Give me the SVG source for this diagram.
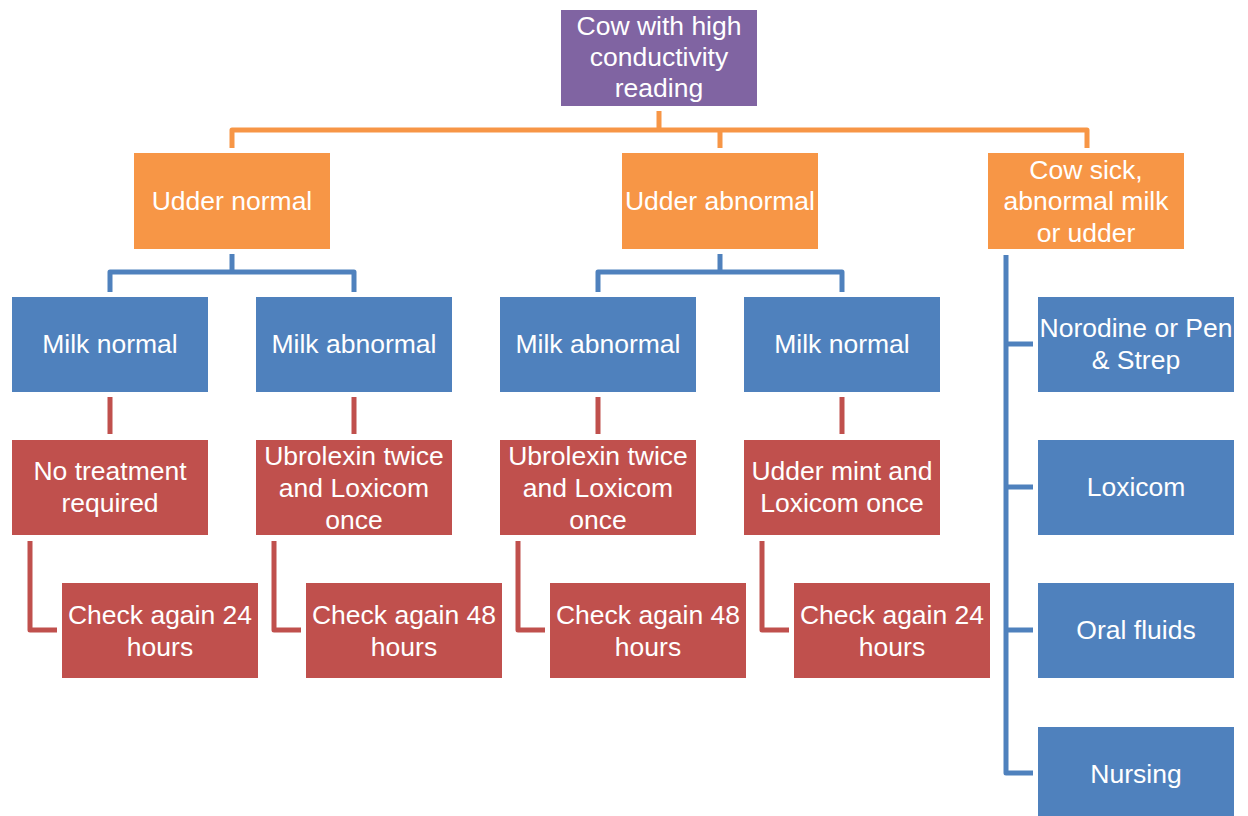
<svg xmlns="http://www.w3.org/2000/svg" width="1248" height="816" viewBox="0 0 1248 816">
<style>
text{font-family:"Liberation Sans",Arial,sans-serif;font-size:26.5px;fill:#fff;text-anchor:middle}
.p{fill:#8064A2}.o{fill:#F79646}.b{fill:#4F81BD}.r{fill:#C0504D}
.lo{stroke:#F79646}.lb{stroke:#4F81BD}.lr{stroke:#C0504D}
#connectors path{fill:none;stroke-width:5;stroke-linejoin:round}
</style>
<rect width="1248" height="816" fill="#fff"/>
<g id="connectors">
<path class="lo" d="M659 111V130M232 148V130H1087V148M720 130V148"/>
<path class="lb" d="M232 254V272M110 292V272H354V292M720 254V272M598 292V272H842V292"/>
<path class="lr" d="M110 397V434M354 397V434M598 397V434M842 397V434"/>
<path class="lr" d="M30 541V630H57M274 541V630H301M518 541V630H545M762 541V630H789"/>
<path class="lb" d="M1006 255V773H1033M1006 344H1033M1006 487H1033M1006 630H1033"/>
</g>
<g id="n-root"><rect class="p" x="561" y="10" width="196" height="96"/><text x="659" y="35">Cow with high</text><text x="659" y="66">conductivity</text><text x="659" y="97">reading</text></g>
<g id="n-udder-normal"><rect class="o" x="134" y="153" width="196" height="96"/><text x="232" y="210">Udder normal</text></g>
<g id="n-udder-abnormal"><rect class="o" x="622" y="153" width="196" height="96"/><text x="720" y="210">Udder abnormal</text></g>
<g id="n-cow-sick"><rect class="o" x="988" y="153" width="196" height="96"/><text x="1086" y="179">Cow sick,</text><text x="1086" y="210">abnormal milk</text><text x="1086" y="242">or udder</text></g>
<g id="n-milk-normal-1"><rect class="b" x="12" y="297" width="196" height="95"/><text x="110" y="353">Milk normal</text></g>
<g id="n-milk-abnormal-1"><rect class="b" x="256" y="297" width="196" height="95"/><text x="354" y="353">Milk abnormal</text></g>
<g id="n-milk-abnormal-2"><rect class="b" x="500" y="297" width="196" height="95"/><text x="598" y="353">Milk abnormal</text></g>
<g id="n-milk-normal-2"><rect class="b" x="744" y="297" width="196" height="95"/><text x="842" y="353">Milk normal</text></g>
<g id="n-no-treatment"><rect class="r" x="12" y="440" width="196" height="95"/><text x="110" y="480">No treatment</text><text x="110" y="512">required</text></g>
<g id="n-ubro-1"><rect class="r" x="256" y="440" width="196" height="95"/><text x="354" y="465">Ubrolexin twice</text><text x="354" y="497">and Loxicom</text><text x="354" y="529">once</text></g>
<g id="n-ubro-2"><rect class="r" x="500" y="440" width="196" height="95"/><text x="598" y="465">Ubrolexin twice</text><text x="598" y="497">and Loxicom</text><text x="598" y="529">once</text></g>
<g id="n-udder-mint"><rect class="r" x="744" y="440" width="196" height="95"/><text x="842" y="480">Udder mint and</text><text x="842" y="512">Loxicom once</text></g>
<g id="n-check-1"><rect class="r" x="62" y="583" width="196" height="95"/><text x="160" y="624">Check again 24</text><text x="160" y="656">hours</text></g>
<g id="n-check-2"><rect class="r" x="306" y="583" width="196" height="95"/><text x="404" y="624">Check again 48</text><text x="404" y="656">hours</text></g>
<g id="n-check-3"><rect class="r" x="550" y="583" width="196" height="95"/><text x="648" y="624">Check again 48</text><text x="648" y="656">hours</text></g>
<g id="n-check-4"><rect class="r" x="794" y="583" width="196" height="95"/><text x="892" y="624">Check again 24</text><text x="892" y="656">hours</text></g>
<g id="n-norodine"><rect class="b" x="1038" y="297" width="196" height="95"/><text x="1136" y="337">Norodine or Pen</text><text x="1136" y="369">&amp; Strep</text></g>
<g id="n-loxicom"><rect class="b" x="1038" y="440" width="196" height="95"/><text x="1136" y="496">Loxicom</text></g>
<g id="n-oral"><rect class="b" x="1038" y="583" width="196" height="95"/><text x="1136" y="639">Oral fluids</text></g>
<g id="n-nursing"><rect class="b" x="1038" y="727" width="196" height="95"/><text x="1136" y="783">Nursing</text></g>
</svg>
